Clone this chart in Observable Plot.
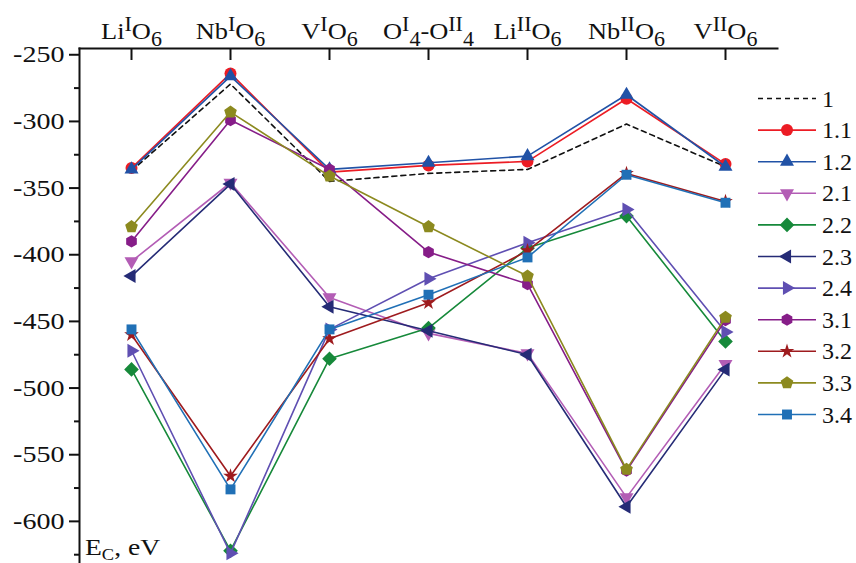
<!DOCTYPE html>
<html><head><meta charset="utf-8">
<script src="https://cdn.jsdelivr.net/npm/d3@7"></script>
<script src="https://cdn.jsdelivr.net/npm/@observablehq/plot@0.6"></script>
<style>
html,body{margin:0;padding:0;background:#fff;}
#chart svg{display:block;}
#chart svg, #chart svg text, #chart svg tspan { font-family: "Liberation Serif", serif !important; }
</style></head><body><div id="chart"></div>
<script>
// ---- data ----
const categories = ["LiIO6", "NbIO6", "VIO6", "OI4-OII4", "LiIIO6", "NbIIO6", "VIIO6"];
const tickLabels = ["Li^{I}O_{6}", "Nb^{I}O_{6}", "V^{I}O_{6}", "O^{I}_{4}-O^{II}_{4}", "Li^{II}O_{6}", "Nb^{II}O_{6}", "V^{II}O_{6}"];
const seriesNames = ["1", "1.1", "1.2", "2.1", "2.2", "2.3", "2.4", "3.1", "3.2", "3.3", "3.4"];
const s1   = [-337, -272, -345, -339, -336, -302, -334];
const s1_1 = [-335, -264, -338, -333, -330, -283, -332];
const s1_2 = [-336, -266, -336, -331, -326, -280, -334];
const s2_1 = [-405, -346, -432, -459, -474, -582, -482];
const s2_2 = [-486, -622, -478, -455, -395, -371, -465];
const s2_3 = [-416, -347, -439, -457, -475, -589, -486];
const s2_4 = [-472, -624, -456, -418, -391, -366, -458];
const s3_1 = [-390, -299, -336, -398, -422, -562, -449];
const s3_2 = [-460, -566, -463, -436, -397, -339, -360];
const s3_3 = [-379, -293, -341, -379, -416, -561, -447];
const s3_4 = [-456, -576, -456, -430, -402, -340, -361];
const seriesValues = [s1, s1_1, s1_2, s2_1, s2_2, s2_3, s2_4, s3_1, s3_2, s3_3, s3_4];
const yTicks = [-250, -300, -350, -400, -450, -500, -550, -600];
const yMinorTicks = [-275, -325, -375, -425, -475, -525, -575, -625];
const axisTitle = "E_{C}, eV";

// ---- styles ----
const FONT = "'Liberation Serif', serif";
const seriesColors = ["#111111", "#ec1c24", "#2152a6", "#b35db5", "#16893a", "#252b76", "#5f4fb2", "#861d88", "#9e1b1e", "#8c8a1f", "#2070b6"];
const pentagon = {draw(ctx, size) {
  const R = Math.sqrt(size / 2.3776);
  for (let k = 0; k < 5; k++) {
    const a = -Math.PI / 2 + k * 2 * Math.PI / 5;
    const x = R * Math.cos(a), y = R * Math.sin(a);
    if (k) ctx.lineTo(x, y); else ctx.moveTo(x, y);
  }
  ctx.closePath();
}};
const hexagon = {draw(ctx, size) {
  const R = Math.sqrt(size / 2.598);
  for (let k = 0; k < 6; k++) {
    const a = k * Math.PI / 3 - Math.PI / 2;
    const x = R * Math.cos(a), y = R * Math.sin(a);
    if (k) ctx.lineTo(x, y); else ctx.moveTo(x, y);
  }
  ctx.closePath();
}};
const seriesSymbols = [null, d3.symbolCircle, d3.symbolTriangle, d3.symbolTriangle, d3.symbolDiamond2, d3.symbolTriangle, d3.symbolTriangle, hexagon, d3.symbolStar, pentagon, d3.symbolSquare];
const seriesRotate = [0, 0, 0, 180, 0, -90, 90, 0, 0, 0, 0];
const seriesR = [0, 6, 5.2, 5.2, 6.6, 5.2, 5.2, 5.6, 4.6, 5.8, 5.6];

const W = 856, H = 563;
const mL = 79, mR = 79, mT = 48, mB = 0;
const yTop = -245.3, yBottom = -631.6;

const marks = [
  Plot.frame({anchor: "left", strokeWidth: 2}),
  Plot.frame({anchor: "top", strokeWidth: 2}),
  Plot.axisX({anchor: "top", tickSize: -11, tickPadding: 21, strokeWidth: 2, label: null, tickFormat: d => d}),
  Plot.axisY(yTicks, {anchor: "left", tickSize: 10, tickPadding: 5, strokeWidth: 2, label: null, tickFormat: d => String(d)}),
  Plot.axisY(yMinorTicks, {anchor: "left", tickSize: 5, strokeWidth: 2, label: null, tickFormat: () => ""})
];

const seriesData = seriesNames.map((name, si) => categories.map((c, i) => ({cat: c, v: seriesValues[si][i], name})));
seriesNames.forEach((name, si) => {
  marks.push(Plot.line(seriesData[si], {x: "cat", y: "v", stroke: seriesColors[si], strokeWidth: 1.6, strokeDasharray: si === 0 ? "5,4" : null}));
  if (seriesSymbols[si]) {
    marks.push(Plot.dot(seriesData[si], {x: "cat", y: "v", symbol: seriesSymbols[si], r: seriesR[si], rotate: seriesRotate[si], fill: seriesColors[si], stroke: "none"}));
  }
});

const chart = Plot.plot({
  width: W, height: H,
  marginLeft: mL, marginRight: mR, marginTop: mT, marginBottom: mB,
  style: {fontFamily: FONT, fontSize: "24px", color: "#111", background: "#fff"},
  x: {type: "point", domain: categories, padding: 0.5, axis: null},
  y: {domain: [yBottom, yTop], axis: null},
  marks
});
document.getElementById("chart").appendChild(chart);

// ---- rich text helper (superscripts / subscripts) ----
function richText(sel, str, small, up, down) {
  sel.text(null);
  const re = /\^\{([^}]*)\}|_\{([^}]*)\}|([^^_]+)/g;
  let m, shift = 0;
  while ((m = re.exec(str))) {
    let target = 0, txt, size = null;
    if (m[1] !== undefined) { target = -up; txt = m[1]; size = small; }
    else if (m[2] !== undefined) { target = down; txt = m[2]; size = small; }
    else { target = 0; txt = m[3]; }
    const t = sel.append("tspan").attr("dy", target - shift).text(txt);
    if (size) t.attr("font-size", size);
    shift = target;
  }
}
// horizontal stretch of a text around its own anchor point
function stretchX(node, s) {
  const ax = +node.getAttribute("x") || 0, ay = +node.getAttribute("y") || 0;
  const t = node.getAttribute("transform") || "";
  node.setAttribute("transform", `${t} translate(${ax},${ay}) scale(${s},1) translate(${-ax},${-ay})`);
}

const svg = d3.select(chart).attr("font-family", FONT);
svg.selectAll('g[aria-label="x-axis tick label"] text').each(function() {
  const key = this.textContent;
  const idx = categories.indexOf(key);
  if (idx >= 0) richText(d3.select(this), tickLabels[idx], 20, 8, 7);
  stretchX(this, 1.1);
});
svg.selectAll('g[aria-label="y-axis tick label"] text').each(function() {
  stretchX(this, 1.17);
});

// axis title inside plot
const title = svg.append("text").attr("transform", "translate(85,555) scale(1.15,1)").attr("font-size", 24)
  .attr("text-anchor", "start").attr("font-family", FONT).attr("fill", "#111");
richText(title, axisTitle, 16, 8, 5);

// legend
const legend = svg.append("g").attr("aria-label", "legend").attr("text-anchor", "start");
seriesNames.forEach((name, si) => {
  const y = 98.5 + si * 31.6;
  legend.append("line").attr("x1", 758).attr("x2", 816).attr("y1", y).attr("y2", y)
    .attr("stroke", seriesColors[si]).attr("stroke-width", 1.6)
    .attr("stroke-dasharray", si === 0 ? "5,4" : null);
  const sym = seriesSymbols[si];
  if (sym) {
    const r = seriesR[si];
    legend.append("path").attr("d", d3.symbol(sym, Math.PI * r * r)())
      .attr("transform", `translate(787,${y}) rotate(${seriesRotate[si]})`)
      .attr("fill", seriesColors[si]);
  }
  legend.append("text").attr("x", 822).attr("y", y + 8).attr("font-size", 24)
    .attr("font-family", FONT).attr("fill", "#111").text(name);
});
</script></body></html>
